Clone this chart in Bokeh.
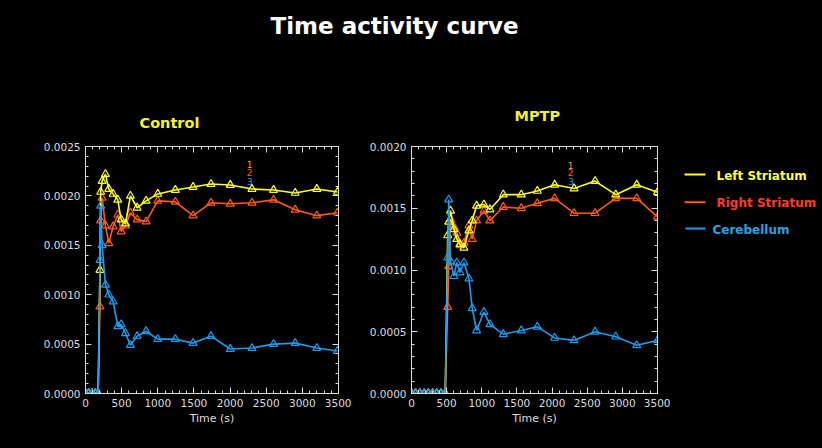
from bokeh.plotting import figure
from bokeh.layouts import column, row
from bokeh.models import (LinearAxis, Range1d, FixedTicker, PrintfTickFormatter,
                          ColumnDataSource)
from bokeh.embed import file_html
from bokeh.resources import INLINE
from bokeh.core.properties import value

# ---------------- data ----------------
ctrl_time = [0, 45, 90, 135, 175, 200, 210, 230, 276, 322, 382, 447, 493, 553,
             622, 714, 838, 1000, 1243, 1488, 1736, 2003, 2303, 2602, 2901, 3200, 3486]
ctrl_left = [0, 0, 0, 0, 0, 0.00125, 0.00204, 0.00215, 0.00222, 0.00207, 0.00202,
             0.00196, 0.00176, 0.00172, 0.00200, 0.00188, 0.00195, 0.00202, 0.00206,
             0.00209, 0.00212, 0.00211, 0.00207, 0.00206, 0.00203, 0.00207, 0.00204]
ctrl_right = [0, 0, 0, 0, 0, 0.00088, 0.00175, 0.00198, 0.00170, 0.00152, 0.00169,
              0.00181, 0.00164, 0.00170, 0.00183, 0.00176, 0.00174, 0.00195, 0.00194,
              0.00180, 0.00193, 0.00192, 0.00193, 0.00196, 0.00186, 0.00180, 0.00183]
ctrl_cereb = [0, 0, 0, 0, 0, 0.00135, 0.00190, 0.00150, 0.00110, 0.00100, 0.00093,
              0.00068, 0.00070, 0.00061, 0.00049, 0.00058, 0.00063, 0.00055, 0.00055,
              0.00051, 0.00058, 0.00045, 0.00046, 0.00050, 0.00051, 0.00046, 0.00043]

mptp_time = [0, 60, 120, 180, 240, 300, 360, 420, 480, 515, 530, 555, 603, 645, 689,
             746, 817, 864, 926, 1030, 1116, 1306, 1562, 1790, 2037, 2313, 2612, 2906,
             3205, 3500]
mptp_left = [0, 0, 0, 0, 0, 0, 0, 0, 0, 0.00128, 0.00139, 0.00148, 0.00133, 0.00125,
             0.00121, 0.00118, 0.00132, 0.00140, 0.00152, 0.00153, 0.00149, 0.00161,
             0.00161, 0.00164, 0.00169, 0.00166, 0.00172, 0.00161, 0.00169, 0.00163]
mptp_right = [0, 0, 0, 0, 0, 0, 0, 0, 0, 0.00070, 0.00103, 0.00141, 0.00135, 0.00130,
              0.00120, 0.00122, 0.00136, 0.00125, 0.00140, 0.00148, 0.00140, 0.00151,
              0.00150, 0.00154, 0.00158, 0.00146, 0.00146, 0.00158, 0.00158, 0.00143]
mptp_cereb = [0, 0, 0, 0, 0, 0, 0, 0, 0, 0.00110, 0.00157, 0.00107, 0.00095, 0.00106,
              0.00098, 0.00106, 0.00093, 0.00069, 0.00051, 0.00066, 0.00056, 0.00048,
              0.00051, 0.00054, 0.00045, 0.00043, 0.00050, 0.00046, 0.00039, 0.00043]

series_names = ["Left Striatum", "Right Striatum", "Cerebellum"]
panel_titles = ["Control", "MPTP"]
x_ticks = [0, 500, 1000, 1500, 2000, 2500, 3000, 3500]
ctrl_y_ticks = [0, 0.0005, 0.0010, 0.0015, 0.0020, 0.0025]
mptp_y_ticks = [0, 0.0005, 0.0010, 0.0015, 0.0020]
id_labels = ["1", "2", "3"]
ctrl_id_x = [2270, 2270, 2275]
ctrl_id_y = [0.00232, 0.00224, 0.00215]
mptp_id_x = [2265, 2265, 2270]
mptp_id_y = [0.00185, 0.00179, 0.00172]

# ---------------- styles ----------------
BG = "black"
FG = "#dddddd"
LINE_COLORS = ["#ffff22", "#ff5a1e", "#1e9bef"]
ID_COLORS = ["#ffa020", "#ff5a1e", "#1e9bef"]
LEGEND_TEXT = ["#ffff44", "#ff3a22", "#2aa0e6"]
TITLE_YELLOW = "#f2f23a"
TICK_FONT = "DejaVu Sans"

HEAD_H = 134
ROW_H = 440 - HEAD_H
TOP_B, BOT_B = 12, 47          # frame: window y 146 .. 393
FRAME_H = ROW_H - TOP_B - BOT_B


def style_axis(ax, ticker, fmt=None, hide_labels=False):
    ax.ticker = ticker
    ax.axis_line_color = FG
    ax.major_tick_line_color = FG
    ax.minor_tick_line_color = FG
    ax.major_tick_in = 6
    ax.major_tick_out = 0
    ax.minor_tick_in = 3
    ax.minor_tick_out = 0
    if fmt is not None:
        ax.formatter = fmt
    if hide_labels:
        ax.major_label_text_font_size = "0px"
        ax.major_label_text_alpha = 0
        ax.major_label_standoff = 0
    else:
        ax.major_label_text_color = FG
        ax.major_label_text_font = TICK_FONT
        ax.major_label_text_font_size = "10.5px"


def make_panel(times, ys, y_max, y_ticks, y_minor_step, width, left, right, id_x, id_y):
    p = figure(width=width, height=ROW_H, output_backend="svg", toolbar_location=None,
               x_range=Range1d(0, 3500), y_range=Range1d(0, y_max),
               min_border_left=left, min_border_right=right,
               min_border_top=TOP_B, min_border_bottom=BOT_B,
               background_fill_color=BG, border_fill_color=BG,
               outline_line_color=FG)
    p.grid.visible = False

    xt = FixedTicker(ticks=x_ticks, minor_ticks=list(range(0, 3501, 100)))
    n_minor = int(round(y_max / y_minor_step))
    y_minor = [round(i * y_minor_step, 6) for i in range(n_minor + 1)]
    yt = FixedTicker(ticks=y_ticks, minor_ticks=y_minor)
    style_axis(p.xaxis[0], xt, PrintfTickFormatter(format="%d"))
    style_axis(p.yaxis[0], yt, PrintfTickFormatter(format="%.4f"))
    p.xaxis[0].major_label_standoff = 5
    p.yaxis[0].major_label_standoff = 5
    p.xaxis[0].axis_label = "Time (s)"
    p.xaxis[0].axis_label_text_color = FG
    p.xaxis[0].axis_label_text_font = TICK_FONT
    p.xaxis[0].axis_label_text_font_size = "11px"
    p.xaxis[0].axis_label_text_font_style = "normal"
    p.xaxis[0].axis_label_standoff = 2

    ax_top = LinearAxis()
    style_axis(ax_top, FixedTicker(ticks=x_ticks, minor_ticks=list(range(0, 3501, 100))),
               hide_labels=True)
    p.add_layout(ax_top, "above")
    ax_right = LinearAxis()
    style_axis(ax_right, FixedTicker(ticks=y_ticks, minor_ticks=y_minor),
               hide_labels=True)
    p.add_layout(ax_right, "right")

    order = [1, 0, 2]  # right striatum, left striatum, then cerebellum on top
    for i in order:
        src = ColumnDataSource(dict(t=times, v=ys[i]))
        p.line("t", "v", source=src, line_color=LINE_COLORS[i], line_width=1.6)
        p.scatter("t", "v", source=src, marker="triangle", size=8,
                  fill_color=None, line_color=LINE_COLORS[i], line_width=1.2)

    p.text(x=id_x, y=id_y, text=id_labels, text_color=ID_COLORS,
           text_font=value(TICK_FONT), text_font_size="9px",
           text_align="center", text_baseline="middle")
    return p


left_fig = make_panel(ctrl_time, [ctrl_left, ctrl_right, ctrl_cereb], 0.0025,
                      ctrl_y_ticks, 0.0001, width=351, left=85, right=13,
                      id_x=ctrl_id_x, id_y=ctrl_id_y)
right_fig = make_panel(mptp_time, [mptp_left, mptp_right, mptp_cereb], 0.0020,
                       mptp_y_ticks, 0.0001, width=319, left=60, right=13,
                       id_x=mptp_id_x, id_y=mptp_id_y)

# ---------------- legend panel (pixel-like coordinates inside frame) ----------------
LEG_W = 152
leg = figure(width=LEG_W, height=ROW_H, output_backend="svg", toolbar_location=None,
             x_range=Range1d(0, LEG_W), y_range=Range1d(0, FRAME_H),
             x_axis_type=None, y_axis_type=None,
             min_border_left=0, min_border_right=0,
             min_border_top=TOP_B, min_border_bottom=BOT_B,
             background_fill_color=BG, border_fill_color=BG, outline_line_color=None)
leg.grid.visible = False
frame_bottom = 440 - BOT_B
leg_line_y = [frame_bottom - 174, frame_bottom - 201.7, frame_bottom - 228]
leg_text_y = [frame_bottom - 175.3, frame_bottom - 202.7, frame_bottom - 229.3]
leg_text_x = [46, 46, 42]
leg.segment(x0=[14, 14, 15], y0=leg_line_y, x1=[35, 35, 35], y1=leg_line_y,
            line_color=LINE_COLORS, line_width=2)
leg.text(x=leg_text_x, y=leg_text_y, text=series_names, text_color=LEGEND_TEXT,
         text_font=value("DejaVu Sans"), text_font_style="bold",
         text_font_size="12px", text_align="left", text_baseline="middle")

# ---------------- header: main title + panel titles ----------------
HEAD_W = 822
head = figure(width=HEAD_W, height=HEAD_H, output_backend="svg", toolbar_location=None,
              x_range=Range1d(0, HEAD_W), y_range=Range1d(0, HEAD_H),
              x_axis_type=None, y_axis_type=None, min_border=0,
              background_fill_color=BG, border_fill_color=BG, outline_line_color=None)
head.grid.visible = False
head.text(x=[394], y=[HEAD_H - 25], text=["Time activity curve"], text_color="white",
          text_font=value("DejaVu Sans"), text_font_style="bold",
          text_font_size="23px", text_align="center", text_baseline="alphabetic")
head.text(x=[139, 514], y=[HEAD_H - 122, HEAD_H - 115.5], text=panel_titles,
          text_color=TITLE_YELLOW, text_font=value("DejaVu Sans"),
          text_font_style="bold", text_font_size="14.5px",
          text_align="left", text_baseline="middle")

p = column(head, row(left_fig, right_fig, leg, spacing=0), spacing=0,
           styles={"background-color": "black"})

html = file_html(p, INLINE, title="Time activity curve")
html = html.replace("<body>", '<body style="background-color:black;">')
open("out.html", "w").write(html)
